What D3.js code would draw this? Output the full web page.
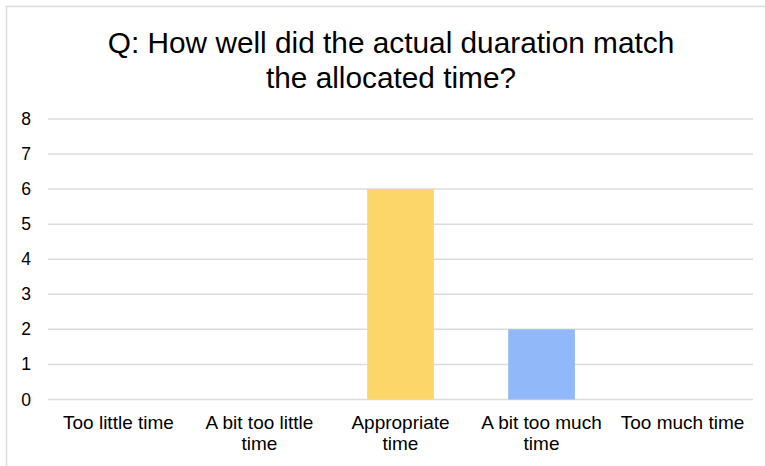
<!DOCTYPE html>
<html><head><meta charset="utf-8">
<script src="https://cdn.jsdelivr.net/npm/d3@7"></script>
<style>body{margin:0;background:#fff}svg{display:block;font-family:"Liberation Sans",Arial,sans-serif}</style>
</head><body>
<script>
const categories = [["Too little time"],["A bit too little","time"],["Appropriate","time"],["A bit too much","time"],["Too much time"]];
const values = [0, 0, 6, 2, 0];
const colors = ["#91b8f9", "#91b8f9", "#fdd669", "#91b8f9", "#91b8f9"];
const yTicks = [0,1,2,3,4,5,6,7,8];
const titleLines = ["Q: How well did the actual duaration match", "the allocated time?"];

const W = 765, H = 466;
const svg = d3.select("body").append("svg").attr("width", W).attr("height", H);
svg.append("path").attr("d", `M6.5,${H} V6.5 H${W}`).attr("fill","none").attr("stroke","#dcdcdc").attr("stroke-width",1.5);

const x = d3.scaleBand().domain(d3.range(categories.length)).range([48, 753]).paddingInner(0.527).paddingOuter(0.263);
const y = d3.scaleLinear().domain([0, 8]).range([399.5, 118.9]);

svg.append("g").selectAll("text").data(titleLines).join("text")
  .attr("x", 391).attr("y", (d,i)=>53 + i*35).attr("text-anchor","middle")
  .attr("font-size", 29.8).attr("fill","#000").text(d=>d);

svg.append("g").selectAll("line").data(yTicks).join("line")
  .attr("x1", 48).attr("x2", 753).attr("y1", d=>y(d)).attr("y2", d=>y(d))
  .attr("stroke", "#dcdcdc").attr("stroke-width", 1.5);

svg.append("g").selectAll("text").data(yTicks).join("text")
  .attr("x", 31).attr("y", d=>y(d)+6).attr("text-anchor","end")
  .attr("font-size", 17.5).attr("fill","#000").text(d=>d);

svg.append("g").selectAll("rect").data(values).join("rect")
  .attr("x", (d,i)=>x(i)).attr("width", x.bandwidth())
  .attr("y", d=>y(d)).attr("height", d=>y(0)-y(d))
  .attr("fill", (d,i)=>colors[i]);

const lab = svg.append("g").selectAll("text").data(categories).join("text")
  .attr("text-anchor","middle").attr("font-size", 19).attr("fill","#000")
  .attr("transform", (d,i)=>`translate(${x(i)+x.bandwidth()/2},429)`);
lab.selectAll("tspan").data(d=>d).join("tspan").attr("x",0).attr("dy",(d,i)=>i?21:0).text(d=>d);
</script>
</body></html>
